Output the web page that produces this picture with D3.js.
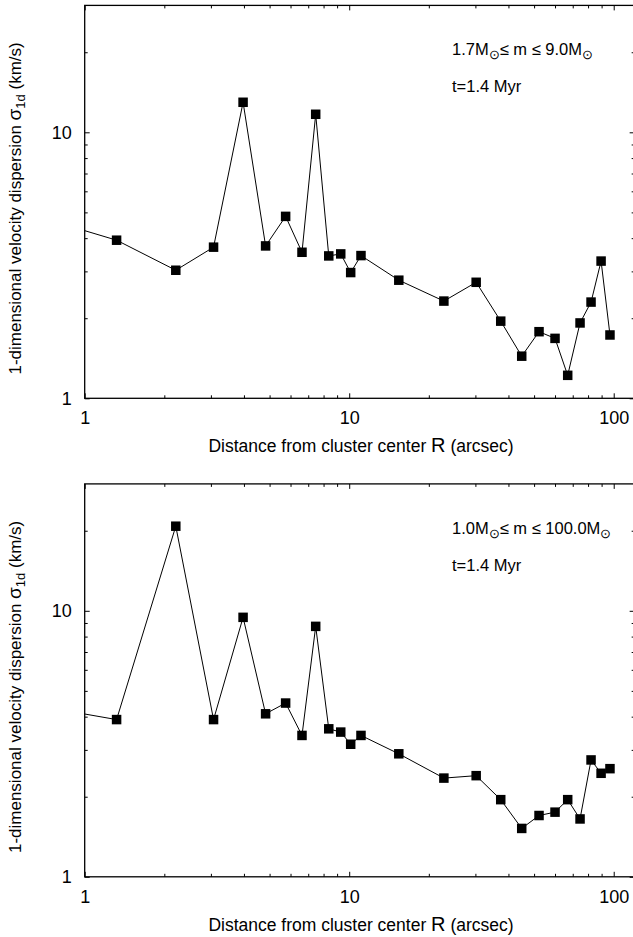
<!DOCTYPE html>
<html>
<head>
<meta charset="utf-8">
<script src="https://cdn.jsdelivr.net/npm/d3@7/dist/d3.min.js"></script>
<style>
  body { margin: 0; background: #fff; }
  svg { display: block; }
</style>
</head>
<body>
<div id="chart"></div>
<script>
// projected radius of each annulus (arcsec), shared by both panels
// first value lies left of the axis, its segment is clipped like in the original
const radius = [0.66, 1.32, 2.21, 3.07, 3.97, 4.83, 5.75, 6.63, 7.47, 8.37, 9.29, 10.13, 11.08,
  15.4, 22.8, 30.2, 37.4, 44.9, 52.2, 60.0, 67.0, 74.6, 82.1, 89.6, 96.8]

// 1d velocity dispersion (km/s), 1.7 - 9.0 Msun
const sigmaHigh = [4.83, 3.93, 3.03, 3.70, 12.97, 3.74, 4.83, 3.54, 11.69, 3.43, 3.49, 2.97, 3.44,
  2.78, 2.32, 2.73, 1.95, 1.44, 1.78, 1.68, 1.22, 1.92, 2.30, 3.28, 1.73]

// 1d velocity dispersion (km/s), 1.0 - 100.0 Msun
const sigmaAll = [4.4, 3.9, 20.8, 3.9, 9.45, 4.1, 4.5, 3.4, 8.74, 3.6, 3.5, 3.15, 3.4,
  2.9, 2.35, 2.4, 1.95, 1.52, 1.7, 1.75, 1.95, 1.65, 2.75, 2.45, 2.55]

const massLow = ['1.7', '1.0']
const massHigh = ['9.0', '100.0']
const ageLabel = 't=1.4 Myr'

const xMajor = [1, 10, 100]
const xMinor = [2, 3, 4, 5, 6, 7, 8, 9, 20, 30, 40, 50, 60, 70, 80, 90]
const yMajor = [1, 10]
const yMinor = [2, 3, 4, 5, 6, 7, 8, 9, 20]

const FONT = "'Liberation Sans', Arial, Helvetica, sans-serif"
const dimensions = {
  width: 633,
  height: 937,
  left: 84.7,
  right: 634.65,
  panelHeight: 392.9,
  panelTops: [5.4, 483.9]
}

const wrapper = d3.select('#chart').append('svg')
  .attr('width', dimensions.width)
  .attr('height', dimensions.height)
  .style('font-family', FONT)

const xScale = d3.scaleLog()
  .domain([1, 120])
  .range([dimensions.left, dimensions.right])

function styleAxis (g) {
  g.select('.domain').remove()
  g.attr('font-family', FONT)
  g.selectAll('line').attr('stroke', '#000').attr('stroke-width', 1)
  g.selectAll('text').attr('fill', '#000').attr('font-size', 18)
}

function drawPanel (idx, sigma) {
  const top = dimensions.panelTops[idx]
  const bottom = top + dimensions.panelHeight
  const yScale = d3.scaleLog()
    .domain([1, 30])
    .range([bottom, top])

  const clipId = 'clip' + idx
  wrapper.append('clipPath').attr('id', clipId)
    .append('rect')
    .attr('x', dimensions.left)
    .attr('y', top)
    .attr('width', dimensions.right - dimensions.left)
    .attr('height', dimensions.panelHeight)

  // ticks, all pointing inwards
  const noLabel = () => ''
  wrapper.append('g')
    .attr('transform', `translate(0, ${bottom})`)
    .call(d3.axisBottom(xScale).tickValues(xMajor).tickSize(-5).tickPadding(13).tickFormat(d3.format('d')))
    .call(styleAxis)
  wrapper.append('g')
    .attr('transform', `translate(0, ${bottom})`)
    .call(d3.axisBottom(xScale).tickValues(xMinor).tickSize(-3).tickFormat(noLabel))
    .call(styleAxis)
  wrapper.append('g')
    .attr('transform', `translate(0, ${top})`)
    .call(d3.axisTop(xScale).tickValues(xMajor).tickSize(-5).tickFormat(noLabel))
    .call(styleAxis)
  wrapper.append('g')
    .attr('transform', `translate(0, ${top})`)
    .call(d3.axisTop(xScale).tickValues(xMinor).tickSize(-3).tickFormat(noLabel))
    .call(styleAxis)

  wrapper.append('g')
    .attr('transform', `translate(${dimensions.left}, 0)`)
    .call(d3.axisLeft(yScale).tickValues(yMajor).tickSize(-5).tickPadding(13).tickFormat(d3.format('d')))
    .call(styleAxis)
  wrapper.append('g')
    .attr('transform', `translate(${dimensions.left}, 0)`)
    .call(d3.axisLeft(yScale).tickValues(yMinor).tickSize(-3).tickFormat(noLabel))
    .call(styleAxis)
  wrapper.append('g')
    .attr('transform', `translate(${dimensions.right}, 0)`)
    .call(d3.axisRight(yScale).tickValues(yMajor).tickSize(-5).tickFormat(noLabel))
    .call(styleAxis)
  wrapper.append('g')
    .attr('transform', `translate(${dimensions.right}, 0)`)
    .call(d3.axisRight(yScale).tickValues(yMinor).tickSize(-3).tickFormat(noLabel))
    .call(styleAxis)

  // frame
  wrapper.append('rect')
    .attr('x', dimensions.left)
    .attr('y', top)
    .attr('width', dimensions.right - dimensions.left)
    .attr('height', dimensions.panelHeight)
    .attr('fill', 'none')
    .attr('stroke', '#000')
    .attr('stroke-width', 1.3)

  const points = radius.map((r, i) => ({ r, s: sigma[i] }))

  const line = d3.line()
    .x(d => xScale(d.r))
    .y(d => yScale(d.s))

  wrapper.append('path')
    .datum(points)
    .attr('clip-path', `url(#${clipId})`)
    .attr('d', line)
    .attr('fill', 'none')
    .attr('stroke', '#000')
    .attr('stroke-width', 1)

  const sq = 9.5
  wrapper.append('g')
    .attr('clip-path', `url(#${clipId})`)
    .selectAll('rect')
    .data(points)
    .join('rect')
    .attr('x', d => xScale(d.r) - sq / 2)
    .attr('y', d => yScale(d.s) - sq / 2)
    .attr('width', sq)
    .attr('height', sq)
    .attr('fill', '#000')

  // axis titles
  const xTitle = wrapper.append('text')
    .attr('x', 361)
    .attr('y', bottom + 54)
    .attr('text-anchor', 'middle')
    .attr('font-size', 17.5)
    .attr('fill', '#000')
  xTitle.append('tspan').text('Distance from cluster center ')
  xTitle.append('tspan').attr('font-size', 20).text('R')
  xTitle.append('tspan').text(' (arcsec)')

  const yTitle = wrapper.append('text')
    .attr('transform', `translate(21, ${top + 203}) rotate(-90)`)
    .attr('text-anchor', 'middle')
    .attr('font-size', 17)
    .attr('fill', '#000')
  yTitle.append('tspan').text('1-dimensional velocity dispersion ')
  yTitle.append('tspan').attr('font-size', 19).text('σ')
  yTitle.append('tspan').attr('font-size', 13).attr('dy', 4).text('1d')
  yTitle.append('tspan').attr('dy', -4).text(' (km/s)')

  // legend
  const legend = wrapper.append('text')
    .attr('x', 452)
    .attr('y', top + 50)
    .attr('font-size', 16.5)
    .attr('fill', '#000')
  legend.append('tspan').text(massLow[idx] + 'M')
  legend.append('tspan').attr('font-size', 12.5).attr('dy', 4).text('⊙')
  legend.append('tspan').attr('dy', -4).text('≤ m ≤ ' + massHigh[idx] + 'M')
  legend.append('tspan').attr('font-size', 12.5).attr('dy', 4).text('⊙')

  wrapper.append('text')
    .attr('x', 452)
    .attr('y', top + 87)
    .attr('font-size', 16.5)
    .attr('fill', '#000')
    .text(ageLabel)
}

drawPanel(0, sigmaHigh)
drawPanel(1, sigmaAll)
</script>
</body>
</html>
